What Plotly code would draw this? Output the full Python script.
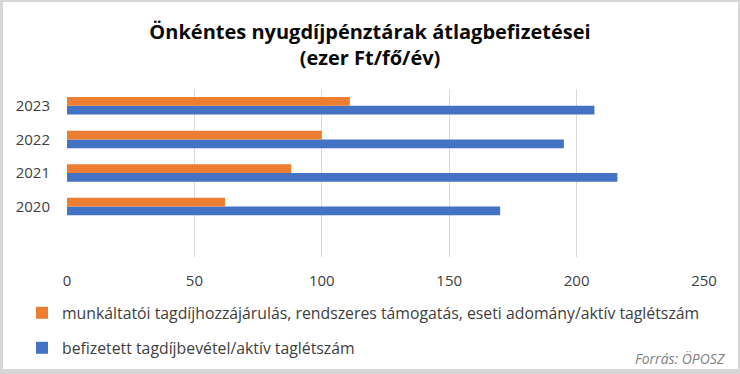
import plotly.graph_objects as go

years = ["2020", "2021", "2022", "2023"]
munkaltatoi = [62, 88, 100, 111]
befizetett = [170, 216, 195, 207]
x_ticks = [0, 50, 100, 150, 200, 250]

name_orange = "munkáltatói tagdíjhozzájárulás, rendszeres támogatás, eseti adomány/aktív taglétszám"
name_blue = "befizetett tagdíjbevétel/aktív taglétszám"

W, H = 740, 374
ML, MR, MT, MB = 67, 36, 89, 117
FONT = "Open Sans"
TXT = "#404040"
FRAME = "#d6d6d6"

fig = go.Figure()
fig.add_trace(go.Bar(
    y=years, x=befizetett, orientation="h", name=name_blue,
    marker=dict(color="#4472C4", line=dict(width=0)), legend="legend2",
))
fig.add_trace(go.Bar(
    y=years, x=munkaltatoi, orientation="h", name=name_orange,
    marker=dict(color="#ED7D31", line=dict(width=0)), legend="legend",
))

pw = W - ML - MR
ph = H - MT - MB

LEG_X = 22
fig.update_layout(
    width=W, height=H,
    margin=dict(l=ML, r=MR, t=MT, b=MB, autoexpand=False),
    paper_bgcolor=FRAME, plot_bgcolor="white",
    barmode="group", bargap=0.48, bargroupgap=0,
    font=dict(family=FONT, size=14, color=TXT),
    title=dict(
        text="<b>Önkéntes nyugdíjpénztárak átlagbefizetései<br>(ezer Ft/fő/év)</b>",
        x=0.5, xanchor="center", xref="container",
        y=1 - 39 / H, yanchor="top", yref="container",
        font=dict(family=FONT, size=20, color="#0a0a0a"),
    ),
    xaxis=dict(
        range=[0, 250], tickvals=x_ticks, showgrid=True, gridcolor="#d9d9d9",
        gridwidth=1, zeroline=False, showline=False, ticks="",
        tickfont=dict(size=15, color=TXT), ticklabelstandoff=13, automargin=False,
    ),
    yaxis=dict(
        type="category", categoryarray=years, range=[-1.5, 3.5],
        showgrid=False, zeroline=False, showline=False, ticks="",
        tickfont=dict(size=15, color=TXT), ticklabelstandoff=16, automargin=False,
    ),
    legend=dict(
        xref="container", yref="container",
        x=LEG_X / W, xanchor="left", y=1 - 313 / H, yanchor="middle",
        font=dict(size=15.8, color=TXT), bgcolor="rgba(0,0,0,0)",
        itemwidth=30,
    ),
    legend2=dict(
        xref="container", yref="container",
        x=LEG_X / W, xanchor="left", y=1 - 348 / H, yanchor="middle",
        font=dict(size=15.8, color=TXT), bgcolor="rgba(0,0,0,0)",
        itemwidth=30,
    ),
    showlegend=True,
)

fig.add_annotation(
    text="<i>Forrás: ÖPOSZ</i>", xref="paper", yref="paper",
    x=(728 - ML) / pw, xanchor="right", y=-(358 - MT - ph) / ph, yanchor="middle",
    showarrow=False, font=dict(family=FONT, size=14, color="#7f7f7f"),
)

# white chart area inside the grey frame
fig.add_shape(
    type="rect", xref="paper", yref="paper",
    x0=-(ML - 3) / pw, x1=(738 - ML) / pw,
    y0=-(369 - MT - ph) / ph, y1=1 + (MT - 2) / ph,
    line=dict(width=0), fillcolor="white", layer="below",
)

fig.write_html(
    "out.html",
    config={"displayModeBar": False},
    post_script="document.body.style.margin='0';document.body.style.overflow='hidden';",
)
